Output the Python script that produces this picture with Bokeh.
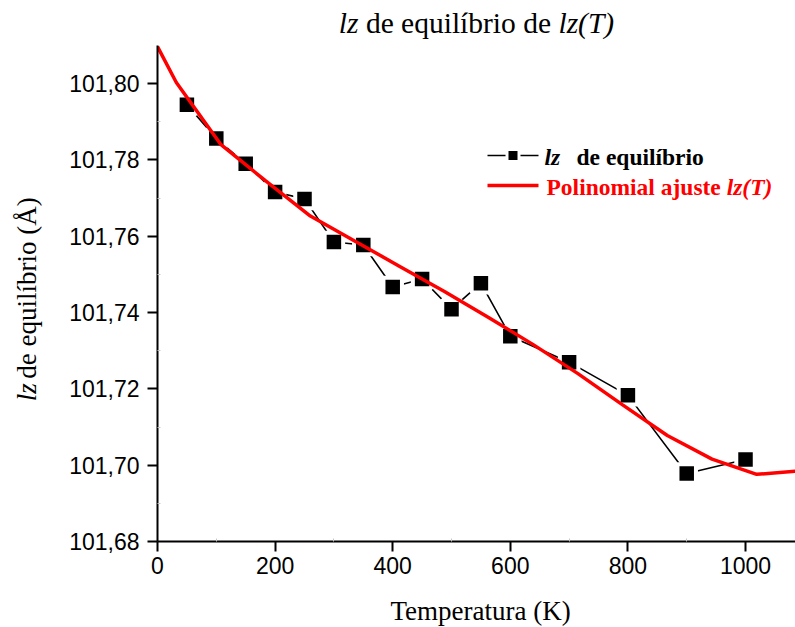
import math
from bokeh.plotting import figure
from bokeh.layouts import column, row
from bokeh.models import Label, FixedTicker, CustomJSTickFormatter, Range1d
from bokeh.embed import file_html
from bokeh.resources import INLINE

# Equilibrium lz (Å) per temperature (K)
temperatura = [50, 100, 150, 200, 250, 300, 350, 400, 450, 500, 550, 600, 700, 800, 900, 1000]
lz_equilibrio = [101.7945, 101.7856, 101.7790, 101.7716, 101.7698, 101.7585, 101.7577,
                 101.7467, 101.7488, 101.7409, 101.7477, 101.7338, 101.7270, 101.7183,
                 101.6978, 101.7015]

# Polynomial fit lz(T), evaluated on a coarse grid
t_ajuste = [0, 32, 108, 184, 260, 336, 412, 488, 563, 639, 715, 791, 867, 943, 1019, 1085]
lz_ajuste = [101.8097, 101.8003, 101.7840, 101.7745, 101.7653, 101.7587, 101.7521, 101.7455,
             101.7387, 101.7316, 101.7240, 101.7158, 101.7078, 101.7016, 101.6976, 101.6984]

x_ticks = [0, 200, 400, 600, 800, 1000]
x_minor = [100, 300, 500, 700, 900]
y_ticks = [101.68, 101.70, 101.72, 101.74, 101.76, 101.78, 101.80]
y_minor = [101.69, 101.71, 101.73, 101.75, 101.77, 101.79]

X_MIN, X_MAX = 0, 1085
Y_MIN, Y_MAX = 101.68, 101.81

# page geometry (pixels)
W, H = 795, 627
TITLE_H = 45          # strip holding the title
YLAB_W = 60           # strip holding the y-axis title
XLAB_H = 41           # strip holding the x-axis title
FRAME_L, FRAME_T = 157, 45
FW, FH = 638, 496
MAIN_W = W - YLAB_W
MAIN_H = H - TITLE_H - XLAB_H

SERIF = "Liberation Serif"
SANS = "Liberation Sans"
DESCENT = 0.23        # label anchor sits below the baseline by about this much of the size


def dx(px):
    """page x pixel -> data x of the main plot"""
    return X_MIN + (px - FRAME_L) * (X_MAX - X_MIN) / FW


def dy(py):
    """page y pixel -> data y of the main plot"""
    return Y_MAX - (py - FRAME_T) * (Y_MAX - Y_MIN) / FH


# Times-compatible advance widths (1/1000 em)
M = {
    "normal": {' ': 250, 'd': 500, 'e': 444, 'q': 500, 'u': 500, 'i': 278, 'l': 278, 'í': 278,
               'b': 500, 'r': 333, 'o': 500, '(': 333, ')': 333, 'Å': 722, 'T': 611, 'm': 778,
               'p': 500, 'a': 444, 't': 278, 'K': 722, 'z': 444},
    "italic": {'l': 278, 'z': 389, '(': 333, 'T': 556, ')': 333, ' ': 250},
    "bold": {'P': 611, 'o': 500, 'l': 278, 'i': 278, 'n': 556, 'm': 833, 'a': 500, ' ': 250,
             'j': 333, 'u': 556, 's': 389, 't': 333, 'e': 444, 'd': 556, 'q': 556, 'í': 278,
             'b': 556, 'r': 444},
    "bold italic": {'l': 278, 'z': 389, '(': 333, 'T': 611, ')': 333, ' ': 250},
}


def width(text, style, size):
    return sum(M[style].get(c, 500) for c in text) * size / 1000.0


def pieces(runs, size):
    """split styled runs into (offset, text, style) with spaces turned into advances"""
    out, pos = [], 0.0
    for text, style in runs:
        lead = len(text) - len(text.lstrip(" "))
        pos += width(" " * lead, style, size)
        body = text.strip(" ")
        out.append((pos, body, style))
        pos += width(body, style, size)
        trail = len(text) - len(text.rstrip(" "))
        pos += width(" " * trail, style, size)
    return out, pos


def runs_h(fig, runs, x0, base, size, color="black", fx=lambda v: v, fy=lambda v: v):
    parts, _ = pieces(runs, size)
    for off, text, style in parts:
        fig.add_layout(Label(x=fx(x0 + off), y=fy(base - DESCENT * size), text=text,
                             text_font=SERIF, text_font_size=f"{size}px",
                             text_font_style=style, text_color=color,
                             text_align="left", text_baseline="alphabetic"))


def runs_v(fig, runs, y0, base_x, size, color="black"):
    parts, _ = pieces(runs, size)
    for off, text, style in parts:
        fig.add_layout(Label(x=base_x - DESCENT * size, y=y0 - off, text=text,
                             text_font=SERIF, text_font_size=f"{size}px",
                             text_font_style=style, text_color=color,
                             text_align="left", text_baseline="alphabetic",
                             angle=math.pi / 2))


def text_strip(w, h, x0, y0):
    """blank figure whose data units are page pixels"""
    f = figure(width=w, height=h, x_range=Range1d(x0, x0 + w), y_range=Range1d(y0 + h, y0),
               min_border=0, x_axis_location=None, y_axis_location=None,
               output_backend="svg", toolbar_location=None)
    f.outline_line_color = None
    f.grid.visible = False
    f.background_fill_color = "white"
    f.border_fill_color = "white"
    return f


# main plot
p = figure(width=MAIN_W, height=MAIN_H, frame_width=FW, frame_height=FH,
           min_border_left=FRAME_L - YLAB_W, min_border_right=0, min_border_top=0,
           min_border_bottom=MAIN_H - FH, output_backend="svg", toolbar_location=None,
           x_range=Range1d(X_MIN, X_MAX), y_range=Range1d(Y_MIN, Y_MAX))
p.outline_line_color = None
p.xgrid.visible = False
p.ygrid.visible = False
p.background_fill_color = "white"
p.border_fill_color = "white"

for ax in (p.xaxis[0], p.yaxis[0]):
    ax.axis_line_width = 2
    ax.major_tick_line_width = 2
    ax.major_tick_out = 10
    ax.major_tick_in = 0
    ax.minor_tick_line_width = 1
    ax.minor_tick_line_color = "#c8c8c8"
    ax.minor_tick_out = 0
    ax.minor_tick_in = 3
    ax.major_label_text_font = SANS
    ax.major_label_text_font_size = "23px"
    ax.major_label_text_color = "black"

p.xaxis.ticker = FixedTicker(ticks=x_ticks, minor_ticks=x_minor)
p.yaxis.ticker = FixedTicker(ticks=y_ticks, minor_ticks=y_minor)
p.yaxis.formatter = CustomJSTickFormatter(code="return tick.toFixed(2).replace('.', ',');")
p.xaxis.major_label_standoff = 5
p.yaxis.major_label_standoff = 8

# data series: line with gaps around the square markers
p.line(temperatura, lz_equilibrio, line_color="black", line_width=1.6)
p.scatter(temperatura, lz_equilibrio, marker="square", size=18.5, fill_color="black",
          line_color="white", line_width=4)

# polynomial fit on top
p.line(t_ajuste, lz_ajuste, line_color="#FF0000", line_width=3.5)

# legend
leg1, leg2 = 155, 185
leg_size = 23.5
p.line([dx(487), dx(538)], [dy(leg1), dy(leg1)], line_color="black", line_width=1.6)
p.scatter([dx(512.5)], [dy(leg1)], marker="square", size=12, fill_color="black",
          line_color="white", line_width=3)
runs_h(p, [("lz", "bold italic")], 544, leg1 + 7, leg_size, fx=dx, fy=dy)
runs_h(p, [("de equilíbrio", "bold")], 576, leg1 + 7, leg_size, fx=dx, fy=dy)
p.line([dx(487), dx(538)], [dy(leg2), dy(leg2)], line_color="#FF0000", line_width=3.5)
runs_h(p, [("Polinomial ajuste ", "bold"), ("lz(T)", "bold italic")], 546, leg2 + 7,
       leg_size, color="#FF0000", fx=dx, fy=dy)

# title strip
top = text_strip(W, TITLE_H, 0, 0)
t_runs = [("lz", "italic"), (" de equilíbrio de ", "normal"), ("lz(T)", "italic")]
t_size = 29.5
_, t_w = pieces(t_runs, t_size)
runs_h(top, t_runs, 476 - t_w / 2, 29, t_size)

# y-axis title strip
left = text_strip(YLAB_W, MAIN_H, 0, TITLE_H)
y_runs = [("lz", "italic"), (" de equilíbrio (Å)", "normal")]
y_size = 27
_, y_w = pieces(y_runs, y_size)
runs_v(left, y_runs, 330 + y_w / 2, 33, y_size)

# x-axis title strip
bottom = text_strip(W, XLAB_H, 0, TITLE_H + MAIN_H)
x_size = 27
_, x_w = pieces([("Temperatura (K)", "normal")], x_size)
runs_h(bottom, [("Temperatura (K)", "normal")], 481 - x_w / 2, 617, x_size)

layout = column(top, row(left, p), bottom)
open("out.html", "w").write(file_html(layout, INLINE))
